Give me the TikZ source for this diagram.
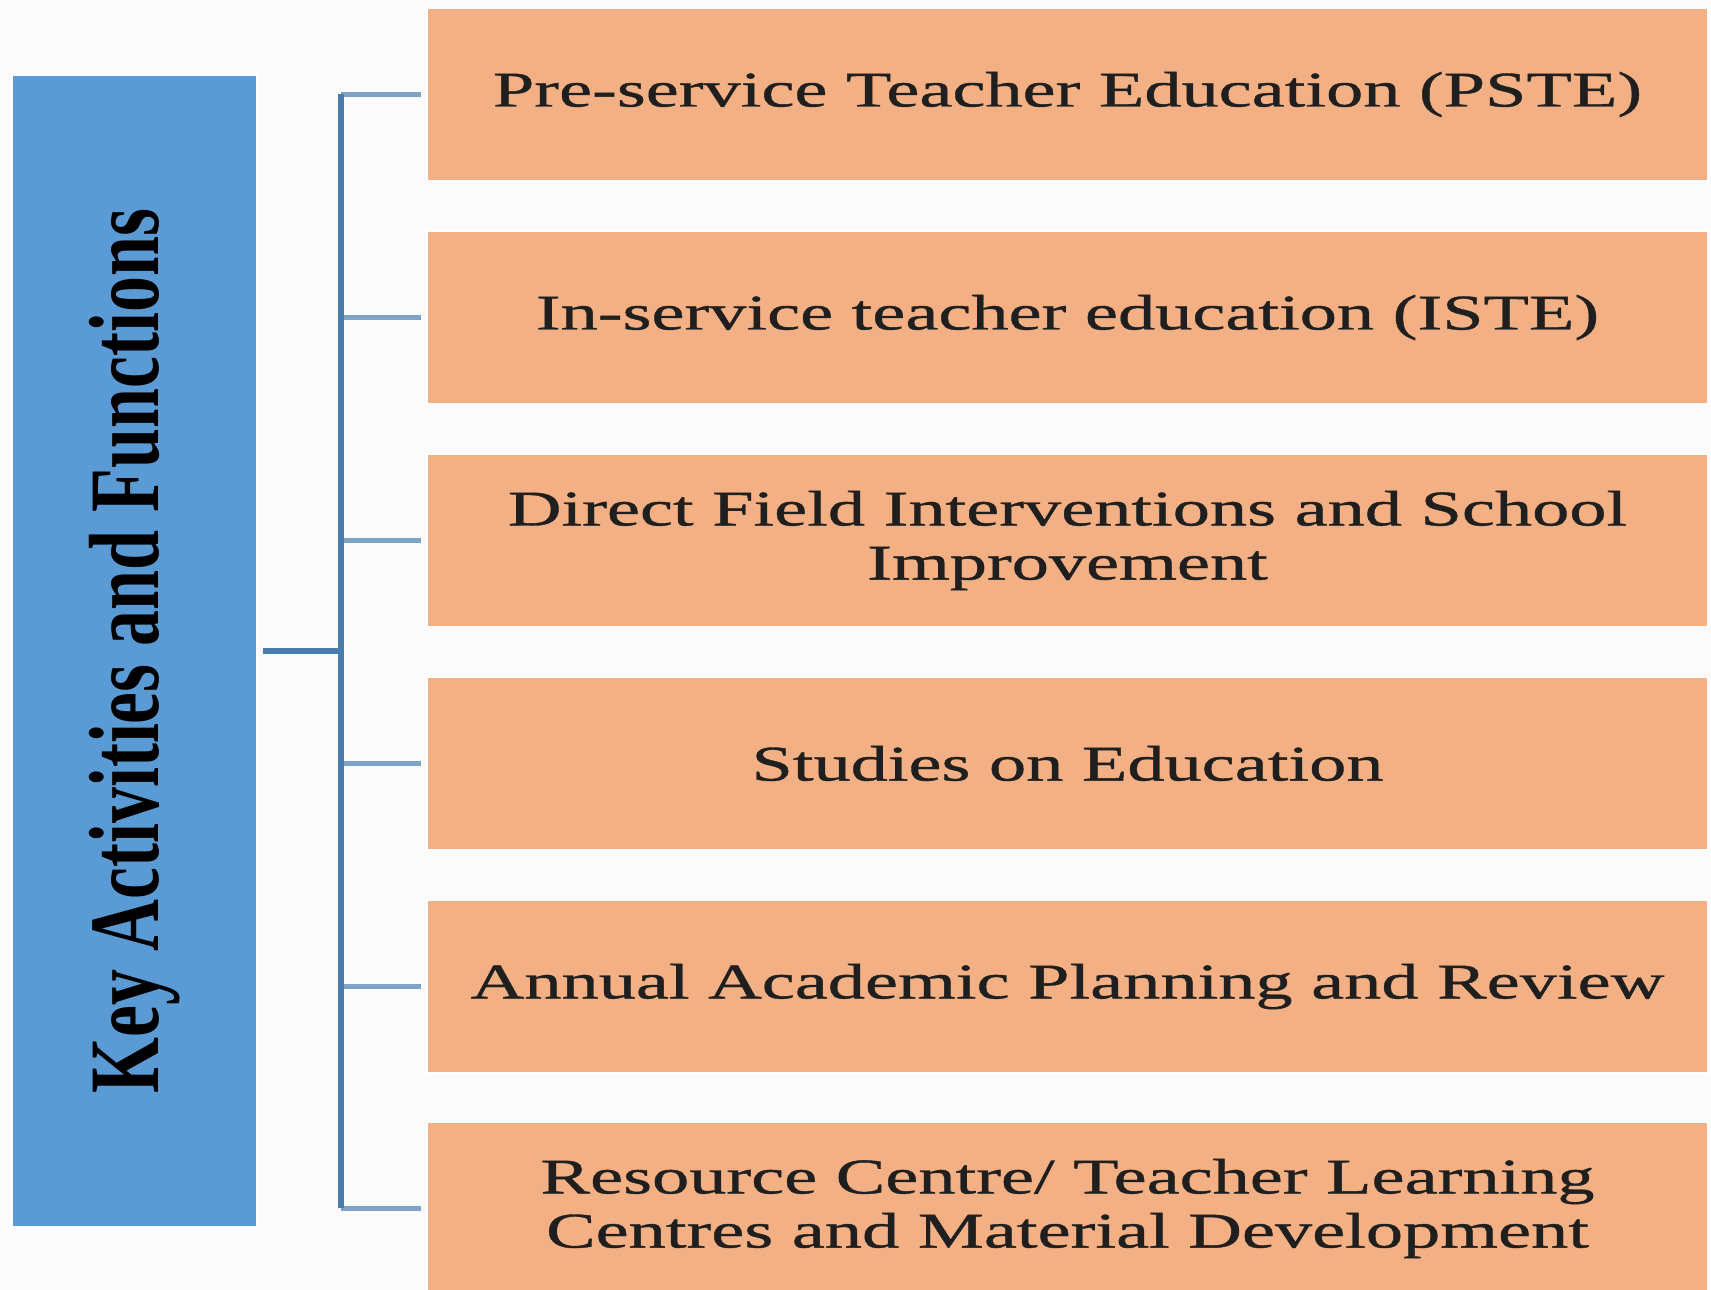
\documentclass[tikz,border=0pt]{standalone}
\usepackage{fontspec}
\setmainfont{Liberation Serif}
\newfontfamily\actfont[FakeStretch=1.49,FakeBold=0.8]{Liberation Serif}
\newfontfamily\keyfont[FakeStretch=0.72]{Liberation Serif}
\definecolor{keyblue}{HTML}{5B9BD5}
\definecolor{actorange}{HTML}{F3B084}
\definecolor{stemblue}{HTML}{4A7CAC}
\definecolor{linkblue}{HTML}{7FA3C6}
\definecolor{paper}{HTML}{FBFBFB}

\begin{document}
\begin{tikzpicture}[
      keybox/.style={fill=keyblue, draw=white, line width=0.6pt,
         minimum width=2.45cm, minimum height=11.52cm, inner sep=0pt,
         font=\keyfont\bfseries\fontsize{28.4}{30}\selectfont},
      actbox/.style={fill=actorange, draw=white, line width=0.6pt,
         minimum width=12.81cm, minimum height=1.73cm, inner sep=0pt,
         align=center, text=black!88,
         font=\actfont\fontsize{14.2}{15.4}\selectfont},
      stem/.style={stemblue, line width=1.6pt},
      link/.style={linkblue, line width=1.4pt}
   ]
            \fill [paper] (0,0) rectangle (17.11,12.9);
            \useasboundingbox (0,0) rectangle (17.11,12.9);
            \clip (0,0) rectangle (17.11,12.9);

            \node [keybox] (key) at (1.345,6.39)
               {\rotatebox{90}{Key Activities and Functions}};

            \node [actbox] (pste) at (10.675,11.955)
               {Pre-service Teacher Education (PSTE)};
            \node [actbox] (iste) at (10.675,9.725)
               {In-service teacher education (ISTE)};
            \node [actbox] (field) at (10.675,7.495)
               {Direct Field Interventions and School\\Improvement};
            \node [actbox] (studies) at (10.675,5.265)
               {Studies on Education};
            \node [actbox] (review) at (10.675,3.035)
               {Annual Academic Planning and Review};
            \node [actbox] (resource) at (10.675,0.815)
               {Resource Centre/ Teacher Learning\\Centres and Material Development};

            \coordinate (hub) at (3.41,6.39);

            \draw [link, shorten >=0.05cm] (pste.west -| hub) -- (pste.west);
            \draw [link, shorten >=0.05cm] (iste.west -| hub) -- (iste.west);
            \draw [link, shorten >=0.05cm] (field.west -| hub) -- (field.west);
            \draw [link, shorten >=0.05cm] (studies.west -| hub) -- (studies.west);
            \draw [link, shorten >=0.05cm] (review.west -| hub) -- (review.west);
            \draw [link, shorten >=0.05cm] (resource.west -| hub) -- (resource.west);

            \draw [stem] (pste.west -| hub) -- (resource.west -| hub);
            \draw [stem, shorten <=0.05cm] (key.east) -- (hub);
         \end{tikzpicture}
\end{document}
